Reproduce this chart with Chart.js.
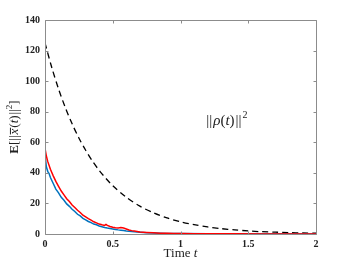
<!DOCTYPE html>
<html><head><meta charset="utf-8">
<script src="https://cdn.jsdelivr.net/npm/chart.js@4.4.1/dist/chart.umd.min.js"></script>
<style>html,body{margin:0;padding:0;background:#fff}#c{display:block}</style>
</head><body>
<canvas id="c" width="350" height="263"></canvas>
<script>
// Dashed reference curve ||rho(t)||^2
const tRho = [0,0.05,0.1,0.15,0.2,0.25,0.3,0.35,0.4,0.45,0.5,0.6,0.7,0.8,0.9,1.0,1.1,1.2,1.3,1.4,1.5,1.6,1.7,1.8,1.9,2.0];
const rho  = [125,108.9,94.9,82.7,72.1,62.8,54.8,47.7,41.6,36.3,31.6,24.0,18.2,13.9,10.5,8.0,6.1,4.6,3.5,2.7,2.0,1.5,1.2,0.9,0.7,0.5];

// Red series
const tRed = [0,0.01,0.02,0.04,0.06,0.08,0.10,0.12,0.14,0.16,0.18,0.20,0.22,0.24,0.26,0.28,0.30,0.32,0.34,0.36,0.38,0.40,0.42,0.44,0.45,0.46,0.48,0.50,0.52,0.54,0.56,0.58,0.60,0.62,0.64,0.66,0.68,0.70,0.75,0.80,0.85,0.90,0.95,1.0,1.1,1.2,1.4,1.6,1.8,2.0];
const red  = [56,51,47.5,42.3,38.2,34.4,31.2,28.1,25.6,23.1,21.2,19.0,17.3,15.5,14.1,12.3,11.2,10.0,9.1,8.0,7.3,6.5,6.0,5.6,6.3,5.6,4.9,4.4,4.1,3.9,4.2,3.9,3.3,2.6,2.2,1.9,1.6,1.3,1.0,0.75,0.55,0.45,0.38,0.3,0.22,0.17,0.11,0.07,0.05,0.03];

// Blue series
const tBlue = [0,0.01,0.02,0.03,0.04,0.06,0.08,0.10,0.12,0.14,0.16,0.18,0.20,0.22,0.24,0.26,0.28,0.30,0.32,0.34,0.36,0.38,0.40,0.42,0.44,0.46,0.48,0.50,0.52,0.54,0.56,0.58,0.60,0.62,0.64,0.66,0.68,0.70,0.75,0.80,0.85,0.90,0.95,1.0,1.2,1.4,1.6,1.8,2.0];
const blue  = [52,44,41,39.5,37,33.2,29.4,26.9,24.0,22.1,19.7,18.1,16.2,14.7,12.9,11.8,10.2,9.3,8.2,7.4,6.5,6.0,5.2,4.8,4.3,3.9,3.6,3.3,3.0,2.7,2.5,2.3,2.0,1.8,1.6,1.4,1.3,1.15,0.85,0.65,0.5,0.38,0.3,0.25,0.15,0.09,0.06,0.04,0.03];

const xTicks = [0,0.5,1,1.5,2];
const yTicks = [0,20,40,60,80,100,120,140];

const pts = (ts, vs) => ts.map((t, i) => ({x: t, y: vs[i]}));
const SERIF = '"Liberation Serif","DejaVu Serif",serif';

function drawRich(ctx, parts, x, y, align) {
  // parts: [text, fontStyle, size, dy, overline]
  let total = 0;
  parts.forEach(p => { ctx.font = p[1] + ' ' + p[2] + 'px ' + SERIF; total += ctx.measureText(p[0]).width + (p[5] || 0); });
  let cx = align === 'center' ? x - total / 2 : x;
  parts.forEach(p => {
    ctx.font = p[1] + ' ' + p[2] + 'px ' + SERIF;
    ctx.fillText(p[0], cx, y + (p[3] || 0));
    const w = ctx.measureText(p[0]).width;
    if (p[4]) ctx.fillRect(cx, y - p[2] * 0.62, w + 1, 1);
    cx += w + (p[5] || 0);
  });
}

const decor = {
  id: 'decor',
  afterDraw(chart) {
    const ctx = chart.ctx, a = chart.chartArea;
    const xs = chart.scales.x, ys = chart.scales.y;
    ctx.save();
    ctx.strokeStyle = '#8c8c8c';
    ctx.lineWidth = 1;
    const L = Math.round(a.left) + 0.5, R = Math.round(a.right) + 0.5;
    const T = Math.round(a.top) + 0.5, B = Math.round(a.bottom) + 0.5;
    ctx.beginPath();
    ctx.rect(L, T, R - L, B - T);
    xTicks.forEach(v => {
      const px = Math.round(xs.getPixelForValue(v)) + 0.5;
      ctx.moveTo(px, B); ctx.lineTo(px, B - 3);
      ctx.moveTo(px, T); ctx.lineTo(px, T + 3);
    });
    yTicks.forEach(v => {
      const py = Math.round(ys.getPixelForValue(v)) + 0.5;
      ctx.moveTo(L, py); ctx.lineTo(L + 3, py);
      ctx.moveTo(R, py); ctx.lineTo(R - 3, py);
    });
    ctx.stroke();

    ctx.fillStyle = '#222';
    ctx.textBaseline = 'alphabetic';
    // x title
    drawRich(ctx, [['Time ', 'normal', 13], ['t', 'italic', 13]], (a.left + a.right) / 2, 257, 'center');
    // curve label
    drawRich(ctx, [['||', 'normal', 15, 0, false, 1], ['ρ', 'italic', 15], ['(', 'normal', 15], ['t', 'italic', 15], [')', 'normal', 15, 0, false, 1], ['||', 'normal', 15, 0, false, 1], ['2', 'normal', 10, -7]],
      xs.getPixelForValue(1.19), ys.getPixelForValue(71.5), 'left');
    // y title (rotated)
    ctx.translate(18, (a.top + a.bottom) / 2);
    ctx.rotate(-Math.PI / 2);
    drawRich(ctx, [['E', 'bold', 13], ['[', 'normal', 13], ['||', 'normal', 13, 0, false, 1], ['x', 'italic', 13, 0, true, 1], ['(', 'normal', 13], ['t', 'italic', 13], [')', 'normal', 13, 0, false, 1], ['||', 'normal', 13], ['2', 'normal', 9, -6], [']', 'normal', 13]], 0, 0, 'center');
    ctx.restore();
  }
};

new Chart(document.getElementById('c'), {
  type: 'line',
  data: {
    datasets: [
      {data: pts(tRho, rho), borderColor: '#000', borderWidth: 1.3, borderDash: [6, 4], pointRadius: 0, tension: 0.3, order: 3},
      {data: pts(tBlue, blue), borderColor: '#0072BD', borderWidth: 1.5, pointRadius: 0, tension: 0, order: 2},
      {data: pts(tRed, red), borderColor: '#FF0000', borderWidth: 1.5, pointRadius: 0, tension: 0, order: 1}
    ]
  },
  options: {
    responsive: false,
    animation: false,
    layout: {padding: {top: 20, right: 34, left: 0, bottom: 0}},
    plugins: {legend: {display: false}, tooltip: {enabled: false}},
    scales: {
      x: {
        type: 'linear', min: 0, max: 2,
        grid: {display: false, drawTicks: false}, border: {display: false},
        afterBuildTicks: s => { s.ticks = xTicks.map(v => ({value: v})); },
        ticks: {font: {family: SERIF, size: 10, weight: 'bold'}, color: '#222', padding: 4, maxRotation: 0,
          callback: v => String(v)},
        afterFit: s => { s.height = 29; }
      },
      y: {
        type: 'linear', min: 0, max: 140,
        grid: {display: false, drawTicks: false}, border: {display: false},
        afterBuildTicks: s => { s.ticks = yTicks.map(v => ({value: v})); },
        ticks: {font: {family: SERIF, size: 10, weight: 'bold'}, color: '#222', padding: 5},
        afterFit: s => { s.width = 45; }
      }
    }
  },
  plugins: [decor]
});
</script>
</body></html>
